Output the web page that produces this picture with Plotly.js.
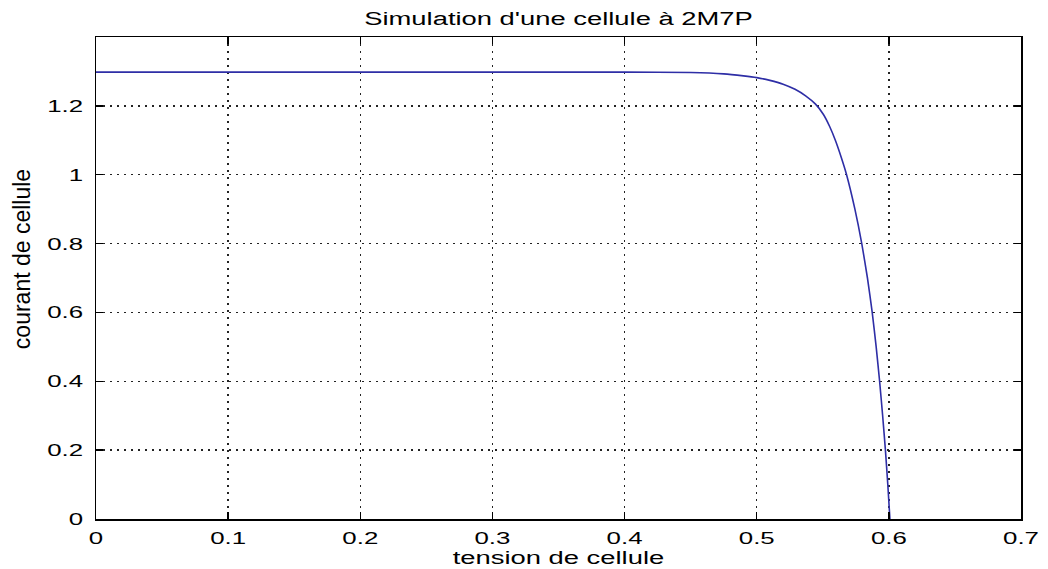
<!DOCTYPE html>
<html>
<head>
<meta charset="utf-8">
<script src="https://cdn.plot.ly/plotly-3.0.1.min.js"></script>
<style>
html,body{margin:0;padding:0;background:#fff;}
#chart{width:1048px;height:569px;}
</style>
</head>
<body>
<div id="chart"></div>
<script>
// Data
const tension = [0, 0.05, 0.1, 0.15, 0.2, 0.25, 0.3, 0.35, 0.4, 0.45, 0.475, 0.49, 0.5, 0.51, 0.52, 0.529, 0.537, 0.5445, 0.5505, 0.5552, 0.5595, 0.564, 0.568, 0.5743, 0.5795, 0.5838, 0.5874, 0.5904, 0.593, 0.5953, 0.5974, 0.5992, 0.6008];
const courant = [1.298, 1.298, 1.298, 1.298, 1.298, 1.298, 1.298, 1.298, 1.298, 1.297, 1.293, 1.287, 1.282, 1.274, 1.263, 1.248, 1.229, 1.205, 1.175, 1.14, 1.1, 1.05, 1.0, 0.9, 0.8, 0.7, 0.6, 0.5, 0.4, 0.3, 0.2, 0.1, 0.0];
const xTicks = [0, 0.1, 0.2, 0.3, 0.4, 0.5, 0.6, 0.7];
const xTickLabels = ["0", "0.1", "0.2", "0.3", "0.4", "0.5", "0.6", "0.7"];
const yTicks = [0, 0.2, 0.4, 0.6, 0.8, 1.0, 1.2];
const yTickLabels = ["0", "0.2", "0.4", "0.6", "0.8", "1", "1.2"];
const titleText = "Simulation d'une cellule à 2M7P";
const xTitle = "tension de cellule";
const yTitle = "courant de cellule";

const fontFam = "Liberation Sans, Arial, sans-serif";
const axisCommon = {
  showline: true, linecolor: '#000', linewidth: 1.5, mirror: 'ticks',
  ticks: 'inside', ticklen: 7, tickcolor: '#000', tickwidth: 1.5,
  showgrid: true, gridcolor: '#222', griddash: '1.5px,5.5px', gridwidth: 1.3,
  zeroline: false, tickfont: {family: fontFam, size: 17, color: '#000'}
};
const trace = {
  x: tension, y: courant, type: 'scatter', mode: 'lines',
  line: {color: '#2e2ea6', width: 1.6, shape: 'spline', smoothing: 0.5}, hoverinfo: 'skip'
};
const layout = {
  width: 1048, height: 569,
  margin: {l: 96, r: 27, t: 37, b: 50},
  paper_bgcolor: '#fff', plot_bgcolor: '#fff',
  showlegend: false,
  title: {text: titleText, xref: 'paper', x: 0.5, xanchor: 'center', yref: 'container', y: 0.968, yanchor: 'middle',
          font: {family: fontFam, size: 18, color: '#000'}},
  xaxis: Object.assign({}, axisCommon, {
    range: [0, 0.7], tickvals: xTicks, ticktext: xTickLabels, ticklabelstandoff: 3,
    title: {text: xTitle, font: {family: fontFam, size: 18, color: '#000'}, standoff: 1}
  }),
  yaxis: Object.assign({}, axisCommon, {
    range: [0, 1.4], tickvals: yTicks, ticktext: yTickLabels, ticklabelstandoff: 8,
    title: {text: yTitle, font: {family: fontFam, size: 23, color: '#000'}, standoff: 22}
  })
};

// horizontal stretch of the horizontal texts, as in the reference picture
const STRETCH = 1.52;
function stretchTexts(gd) {
  const sel = gd.querySelectorAll('.xtick text, .ytick text, .gtitle, .xtitle');
  sel.forEach(function (t) {
    const w = t.getComputedTextLength();
    if (w > 0) {
      t.setAttribute('textLength', (w * STRETCH).toFixed(2));
      t.setAttribute('lengthAdjust', 'spacingAndGlyphs');
    }
  });
  const yt = gd.querySelector('.ytitle');
  if (yt) {
    const x = parseFloat(yt.getAttribute('x'));
    const y = parseFloat(yt.getAttribute('y')) - 19;
    yt.setAttribute('y', y);
    yt.setAttribute('transform', 'rotate(-90,' + x + ',' + y + ')');
  }
}
Plotly.newPlot('chart', [trace], layout, {staticPlot: true, displayModeBar: false})
  .then(function (gd) { stretchTexts(gd); });
</script>
</body>
</html>
